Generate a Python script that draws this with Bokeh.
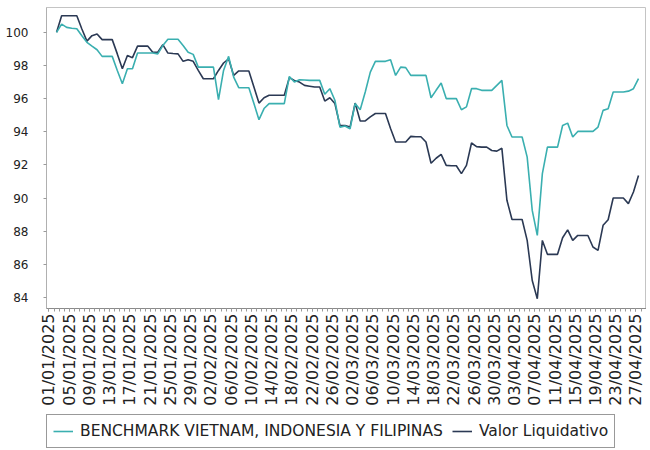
import pandas as pd
from bokeh.plotting import figure
from bokeh.layouts import column
from bokeh.models import Range1d, FixedTicker, Legend, LegendItem
from bokeh.embed import file_html
from bokeh.resources import INLINE
from math import pi

# ---------------- data ----------------
first_date = "2025-01-02"

benchmark = [
    100.0, 100.5, 100.3, 100.25, 100.22, 99.8, 99.4, 99.17, 98.95, 98.55,
    98.55, 98.55, 97.7, 96.9, 97.8, 97.8, 98.75, 98.75, 98.75, 98.75,
    98.7, 99.2, 99.58, 99.58, 99.58, 99.2, 98.8, 98.67, 97.9, 97.9,
    97.9, 97.9, 95.94, 97.7, 98.55, 97.3, 96.66, 96.66, 96.66, 95.7,
    94.73, 95.4, 95.7, 95.7, 95.7, 95.7, 97.34, 97.0, 97.14, 97.12,
    97.1, 97.1, 97.1, 96.26, 96.6, 95.9, 94.28, 94.35, 94.18, 95.7,
    95.33, 96.4, 97.6, 98.25, 98.25, 98.25, 98.35, 97.4, 97.9, 97.87,
    97.4, 97.4, 97.4, 97.4, 96.05, 96.5, 96.94, 96.0, 96.0, 96.0,
    95.33, 95.5, 96.6, 96.6, 96.5, 96.5, 96.5, 96.8, 97.1, 94.38,
    93.68, 93.68, 93.68, 92.47, 89.25, 87.74, 91.47, 93.07, 93.07, 93.07,
    94.38, 94.52, 93.68, 94.02, 94.02, 94.02, 94.02, 94.28, 95.29, 95.39,
    96.4, 96.4, 96.4, 96.45, 96.6, 97.2,
]

nav = [
    100.0, 101.0, 101.0, 101.0, 101.0, 100.2, 99.47, 99.8, 99.9, 99.56,
    99.56, 99.56, 98.7, 97.8, 98.6, 98.47, 99.17, 99.17, 99.17, 98.8,
    98.8, 99.26, 98.75, 98.72, 98.7, 98.25, 98.35, 98.25, 97.7, 97.2,
    97.2, 97.2, 97.7, 98.15, 98.4, 97.4, 97.67, 97.67, 97.67, 96.7,
    95.73, 96.05, 96.2, 96.2, 96.2, 96.2, 97.26, 97.1, 97.0, 96.8,
    96.75, 96.7, 96.7, 95.85, 96.05, 95.7, 94.38, 94.38, 94.28, 95.73,
    94.65, 94.65, 94.9, 95.1, 95.1, 95.1, 94.2, 93.38, 93.38, 93.38,
    93.72, 93.7, 93.7, 93.38, 92.1, 92.4, 92.63, 91.97, 91.95, 91.95,
    91.47, 91.97, 93.32, 93.1, 93.07, 93.07, 92.87, 92.83, 93.0, 89.86,
    88.7, 88.7, 88.7, 87.44, 85.02, 83.92, 87.44, 86.6, 86.6, 86.6,
    87.6, 88.08, 87.44, 87.74, 87.74, 87.74, 87.04, 86.84, 88.35, 88.69,
    90.0, 90.0, 90.0, 89.66, 90.36, 91.36,
]

series_names = ["BENCHMARK VIETNAM, INDONESIA Y FILIPINAS", "Valor Liquidativo"]

x_tick_labels = [
    "01/01/2025", "05/01/2025", "09/01/2025", "13/01/2025", "17/01/2025",
    "21/01/2025", "25/01/2025", "29/01/2025", "02/02/2025", "06/02/2025",
    "10/02/2025", "14/02/2025", "18/02/2025", "22/02/2025", "26/02/2025",
    "02/03/2025", "06/03/2025", "10/03/2025", "14/03/2025", "18/03/2025",
    "22/03/2025", "26/03/2025", "30/03/2025", "03/04/2025", "07/04/2025",
    "11/04/2025", "15/04/2025", "19/04/2025", "23/04/2025", "27/04/2025",
]
y_ticks = [84, 86, 88, 90, 92, 94, 96, 98, 100]

# ---------------- build ----------------
day0 = pd.Timestamp("2025-01-01")
n = min(len(benchmark), len(nav))
dates = pd.date_range(first_date, periods=n, freq="D")
# x in days since 01/01/2025, each daily value drawn at mid-day
xs = [(d - day0).days + 0.5 for d in dates]

major = [float((pd.to_datetime(t, format="%d/%m/%Y") - day0).days) for t in x_tick_labels]
minor = list(range(0, 119))

teal = "#3aafb0"
navy = "#2b3954"

p = figure(
    frame_width=600, frame_height=301,
    x_range=Range1d(-0.49, 118.08),
    y_range=Range1d(83.33, 101.5),
    output_backend="svg",
    toolbar_location=None,
    min_border_left=46, min_border_right=0, min_border_top=7, min_border_bottom=106,
)
p.xgrid.visible = False
p.ygrid.visible = False
p.outline_line_color = "#c4c4c4"
p.outline_line_width = 1
p.background_fill_color = "white"

p.line(xs, nav[:n], line_color=navy, line_width=1.6)
p.line(xs, benchmark[:n], line_color=teal, line_width=1.6)

# x axis
xa = p.xaxis[0]
xa.ticker = FixedTicker(ticks=major, minor_ticks=minor)
xa.major_label_overrides = {m: lab for m, lab in zip(major, x_tick_labels)}
xa.major_label_orientation = pi / 2
xa.major_label_text_font = "DejaVu Sans"
xa.major_label_text_font_size = "16px"
xa.major_label_text_color = "#222222"
xa.major_label_standoff = 2
xa.axis_line_color = "#8a8a8a"
xa.major_tick_line_color = "#9a9a9a"
xa.minor_tick_line_color = "#9a9a9a"
xa.major_tick_out = 3
xa.major_tick_in = 0
xa.minor_tick_out = 3
xa.minor_tick_in = 0

# y axis
ya = p.yaxis[0]
ya.ticker = FixedTicker(ticks=y_ticks, minor_ticks=[])
ya.major_label_text_font = "DejaVu Sans"
ya.major_label_text_font_size = "12px"
ya.major_label_text_color = "#222222"
ya.major_label_standoff = 15
ya.axis_line_color = "#b0b0b0"
ya.major_tick_line_color = "#9a9a9a"
ya.major_tick_out = 3
ya.major_tick_in = 0

# legend strip under the chart (its lines use the same data, kept out of view)
leg = figure(
    width=646, height=35,
    x_range=Range1d(0, 1), y_range=Range1d(0, 1),
    x_axis_location=None, y_axis_location=None,
    output_backend="svg", toolbar_location=None,
    min_border_left=0, min_border_right=0, min_border_top=0, min_border_bottom=0,
)
leg.grid.visible = False
leg.outline_line_color = None
k_bm = leg.line(xs, benchmark[:n], line_color=teal, line_width=1.6)
k_nav = leg.line(xs, nav[:n], line_color=navy, line_width=1.6)

legend = Legend(
    items=[LegendItem(label=series_names[0], renderers=[k_bm]),
           LegendItem(label=series_names[1], renderers=[k_nav])],
    orientation="horizontal",
    location=(0, 1),
    label_text_font="DejaVu Sans",
    label_text_font_size="15.5px",
    label_text_color="#222222",
    glyph_width=20,
    label_standoff=7,
    spacing=9,
    padding=6,
    margin=0,
    border_line_color="#333333",
    border_line_width=1,
    background_fill_alpha=1.0,
)
leg.add_layout(legend, "center")

layout = column(p, leg, spacing=0)
open("out.html", "w").write(file_html(layout, INLINE))
